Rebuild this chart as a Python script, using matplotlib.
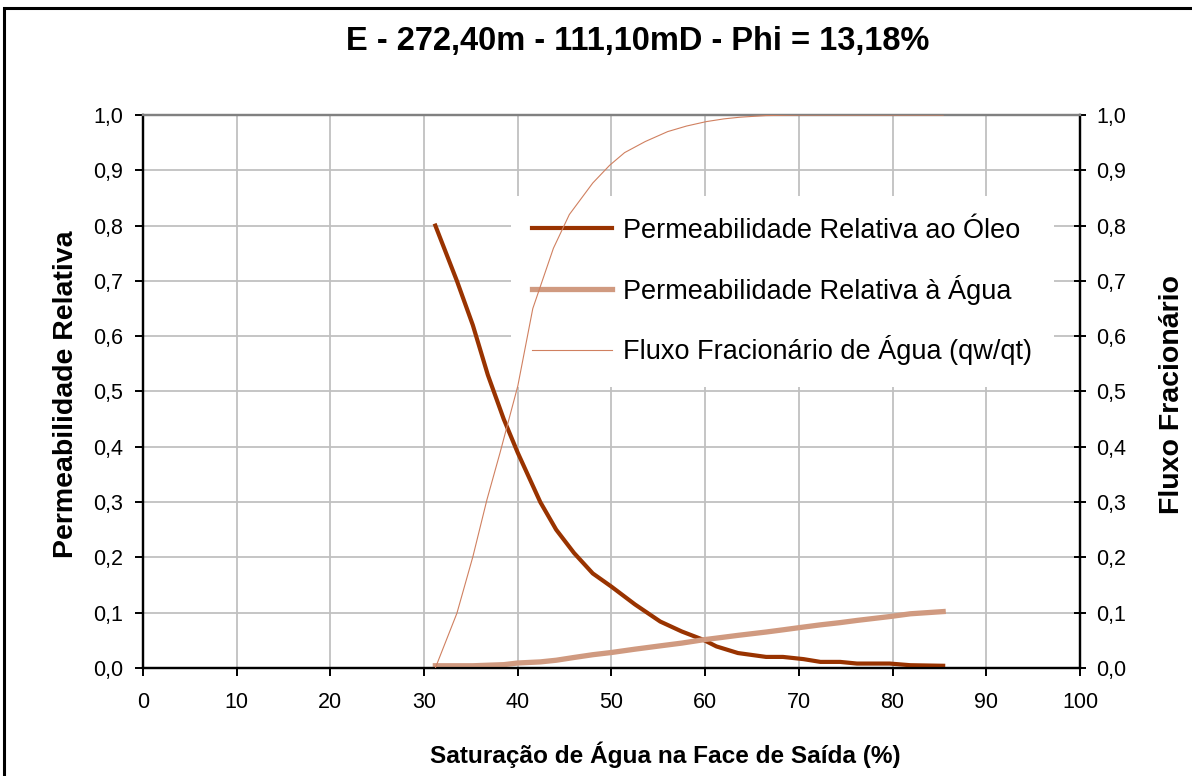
import matplotlib.pyplot as plt
import matplotlib.ticker as ticker
from matplotlib.patches import Rectangle

TITLE = "E - 272,40m - 111,10mD - Phi = 13,18%"

# Saturação de água (%) e permeabilidades relativas
SW_K = [31.2, 33.5, 35.2, 36.8, 38.5, 40.0, 42.4, 44.1, 46.0, 48.0, 50.0,
        52.5, 55.2, 57.5, 59.8, 61.2, 63.5, 66.5, 68.3, 70.5, 72.3, 74.4,
        76.2, 79.7, 81.9, 85.4]
KRO = [0.800, 0.700, 0.620, 0.530, 0.450, 0.389, 0.300, 0.250, 0.208, 0.171,
       0.147, 0.115, 0.084, 0.066, 0.051, 0.039, 0.027, 0.020, 0.020, 0.016,
       0.011, 0.011, 0.008, 0.008, 0.005, 0.004]
KRW = [0.004, 0.004, 0.004, 0.005, 0.006, 0.009, 0.011, 0.014, 0.019, 0.024,
       0.028, 0.034, 0.040, 0.045, 0.051, 0.054, 0.059, 0.065, 0.069, 0.074,
       0.078, 0.082, 0.086, 0.093, 0.098, 0.102]

# Fluxo fracionário de água
SW_F = [31.2, 33.5, 35.2, 36.7, 38.1, 40.0, 41.6, 43.8, 45.5, 48.0, 49.8,
        51.4, 53.6, 56.0, 58.0, 60.1, 62.0, 63.7, 66.5, 70.0, 75.0, 80.0, 85.4]
FW = [0.000, 0.099, 0.201, 0.304, 0.389, 0.510, 0.650, 0.759, 0.820, 0.877,
      0.909, 0.932, 0.952, 0.970, 0.980, 0.988, 0.993, 0.996, 0.999, 1.000,
      1.000, 1.000, 1.000]

X_TICKS = list(range(0, 101, 10))
Y_TICKS = [i / 10 for i in range(11)]

C_OIL   = "#993300"
C_WATER = "#D09A80"
C_FW    = "#D08060"

plt.rcParams["font.family"] = ["Liberation Sans", "DejaVu Sans"]

fig = plt.figure(figsize=(11.92, 7.76), dpi=100)
ax = fig.add_axes([0.120, 0.1392, 0.786, 0.7126])
ax2 = ax.twinx()

l1, = ax.plot(SW_K, KRO, color=C_OIL, lw=3.0, zorder=3,
              label="Permeabilidade Relativa ao Óleo")
l2, = ax.plot(SW_K, KRW, color=C_WATER, lw=3.8, zorder=3,
              label="Permeabilidade Relativa à Água")
l3, = ax2.plot(SW_F, FW, color=C_FW, lw=0.8, zorder=3,
               label="Fluxo Fracionário de Água (qw/qt)")

fmt = ticker.FuncFormatter(lambda v, _: f"{v:.1f}".replace(".", ","))
for a in (ax, ax2):
    a.set_xlim(0, 100)
    a.set_ylim(0, 1.0)
    a.set_yticks(Y_TICKS)
    a.yaxis.set_major_formatter(fmt)
ax.set_xticks(X_TICKS)

ax.grid(True, color="#C0C0C0", lw=1.3)
ax.set_axisbelow(True)

for a in (ax, ax2):
    for s in a.spines.values():
        s.set_linewidth(1.6)
        s.set_color("black")
    a.spines["top"].set_color("#808080")

ax.tick_params(axis="x", direction="out", length=6, width=1.4,
               labelsize=15.5, pad=11.5)
ax.tick_params(axis="y", direction="out", length=6, width=1.4,
               labelsize=15.5, pad=8.5)
ax2.tick_params(axis="y", direction="inout", length=8, width=1.4,
                labelsize=15.5, pad=8)

# títulos dos eixos posicionados em coordenadas da figura
fig.text(0.558, 0.027, "Saturação de Água na Face de Saída (%)", fontsize=17.6,
         fontweight="bold", ha="center", va="center")
fig.text(0.055, 0.492, "Permeabilidade Relativa", fontsize=20.5, fontweight="bold",
         ha="center", va="center", rotation=90)
fig.text(0.983, 0.492, "Fluxo Fracionário", fontsize=20.5, fontweight="bold",
         ha="center", va="center", rotation=90)
fig.text(0.535, 0.946, TITLE, fontsize=23.5, fontweight="bold",
         ha="center", va="center")

leg = ax.legend(handles=[l1, l2, l3], loc="upper left",
                bbox_to_anchor=(0.378, 0.878), fontsize=19.5, frameon=True,
                handlelength=2.95, labelspacing=1.14, handletextpad=0.4,
                borderpad=0.8, fancybox=False)
leg.get_frame().set_edgecolor("none")
leg.get_frame().set_facecolor("white")
leg.get_frame().set_alpha(1)
leg.set_zorder(2)

fig.patches.append(Rectangle((0.003, -0.01), 1.02, 1.0, transform=fig.transFigure,
                             fill=False, edgecolor="black", lw=2.2))

fig.savefig("out.png", dpi=100)
